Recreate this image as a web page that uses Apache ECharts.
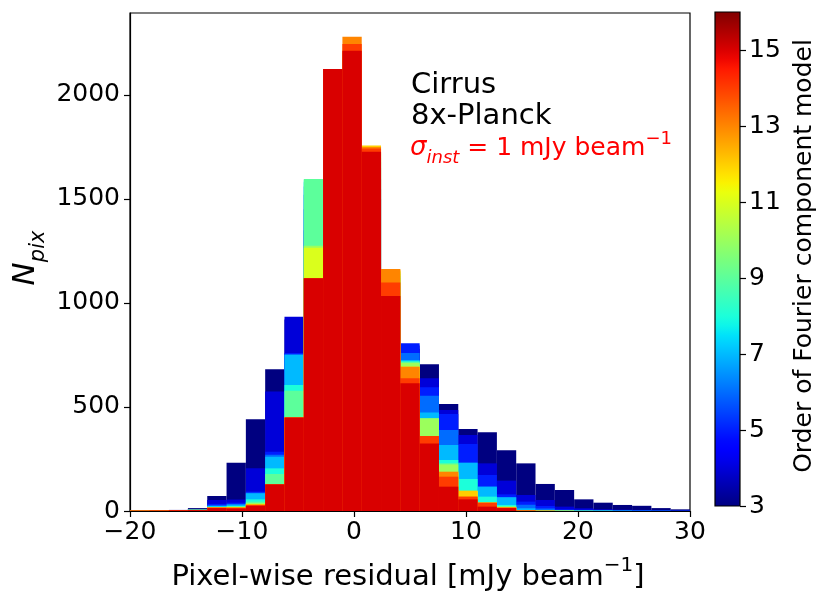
<!DOCTYPE html>
<html lang="en">
<head>
<meta charset="utf-8">
<title>Cirrus 8x-Planck residual histogram</title>
<style>
  * { margin: 0; padding: 0; box-sizing: border-box; }
  html, body { width: 100%; height: 100%; background: #fff; }
  #chart { width: 831px; height: 605px; }
</style>
</head>
<body>
<div id="chart"></div>
<script src="https://cdn.jsdelivr.net/npm/echarts@6/dist/echarts.min.js"></script>
<script>
// histogram: 29 bins between -20 and 30 mJy/beam
const binMin = -20
const binMax = 30
const binCount = 29

// order of the Fourier component model, drawn low -> high (15 on top)
const orders = [3, 4, 5, 6, 7, 8, 9, 10, 11, 12, 13, 14, 15]
const cbarMin = 3
const cbarMax = 16
const cbarTicks = [3, 5, 7, 9, 11, 13, 15]
const yTicks = [0, 500, 1000, 1500, 2000]

// pixel counts per bin, one array per order
const nOrder3  = [2, 3, 5, 14, 72, 232, 441, 681, 920, 1350, 1800, 1900, 1500, 1000, 780, 705, 514, 394, 378, 292, 229, 130, 101, 56, 40, 29, 25, 14, 8]
const nOrder4  = [2, 3, 5, 9, 53, 55, 205, 574, 934, 1450, 1900, 2000, 1550, 1050, 795, 638, 486, 365, 229, 146, 77, 53, 21, 13, 8, 6, 5, 3, 2]
const nOrder5  = [2, 3, 4, 7, 34, 40, 93, 285, 760, 1520, 1950, 2050, 1600, 1080, 806, 595, 466, 322, 173, 80, 45, 24, 8, 6, 5, 4, 3, 2, 1]
const nOrder6  = [2, 3, 4, 7, 28, 34, 88, 270, 755, 1560, 2000, 2100, 1650, 1100, 760, 554, 389, 232, 117, 66, 30, 12, 5, 4, 3, 2, 2, 1, 1]
const nOrder7  = [2, 3, 4, 6, 24, 30, 85, 261, 750, 1580, 2050, 2150, 1680, 1120, 726, 473, 317, 232, 117, 66, 13, 5, 3, 2, 2, 1, 1, 1, 0]
const nOrder8  = [2, 3, 4, 6, 21, 24, 56, 205, 606, 1590, 2080, 2180, 1700, 1130, 720, 440, 245, 154, 69, 29, 5, 3, 2, 1, 1, 1, 0, 0, 0]
const nOrder9  = [2, 3, 4, 6, 19, 22, 45, 178, 578, 1596, 2100, 2190, 1720, 1140, 718, 445, 230, 95, 40, 24, 3, 2, 1, 1, 1, 0, 0, 0, 0]
const nOrder10 = [2, 3, 4, 6, 18, 20, 38, 128, 450, 1275, 2110, 2200, 1725, 1150, 712, 446, 224, 95, 40, 20, 3, 2, 1, 1, 0, 0, 0, 0, 0]
const nOrder11 = [2, 3, 4, 5, 17, 19, 34, 128, 450, 1265, 2115, 2205, 1726, 1155, 694, 361, 185, 95, 40, 18, 2, 1, 1, 0, 0, 0, 0, 0, 0]
const nOrder12 = [2, 3, 4, 5, 17, 18, 32, 128, 450, 1119, 2120, 2210, 1757, 1160, 694, 361, 187, 98, 40, 18, 2, 1, 1, 0, 0, 0, 0, 0, 0]
const nOrder13 = [2, 2, 4, 5, 17, 17, 31, 128, 450, 1119, 2120, 2280, 1750, 1163, 694, 361, 189, 69, 40, 16, 2, 1, 0, 0, 0, 0, 0, 0, 0]
const nOrder14 = [2, 2, 4, 5, 16, 15, 28, 128, 450, 1119, 2125, 2245, 1743, 1098, 638, 361, 165, 69, 40, 16, 2, 1, 0, 0, 0, 0, 0, 0, 0]
const nOrder15 = [1, 2, 3, 4, 14, 12, 25, 128, 450, 1119, 2125, 2212, 1727, 1034, 614, 325, 117, 56, 21, 14, 1, 0, 0, 0, 0, 0, 0, 0, 0]

const countsByOrder = [nOrder3, nOrder4, nOrder5, nOrder6, nOrder7, nOrder8, nOrder9,
    nOrder10, nOrder11, nOrder12, nOrder13, nOrder14, nOrder15]

const FONT = 'DejaVu Sans'
const TICK_FONT = 25

// matplotlib 'jet'
function lerpTable(t, table) {
    for (let i = 1; i < table.length; i++) {
        if (t <= table[i][0]) {
            const a = table[i - 1], b = table[i]
            return a[1] + (b[1] - a[1]) * (t - a[0]) / (b[0] - a[0])
        }
    }
    return table[table.length - 1][1]
}
function jet(t) {
    t = Math.min(1, Math.max(0, t))
    const r = lerpTable(t, [[0, 0], [0.35, 0], [0.66, 1], [0.89, 1], [1, 0.5]])
    const g = lerpTable(t, [[0, 0], [0.125, 0], [0.375, 1], [0.64, 1], [0.91, 0], [1, 0]])
    const b = lerpTable(t, [[0, 0.5], [0.11, 1], [0.34, 1], [0.65, 0], [1, 0]])
    return 'rgb(' + Math.round(r * 255) + ',' + Math.round(g * 255) + ',' + Math.round(b * 255) + ')'
}

const binEdges = []
for (let i = 0; i <= binCount; i++) binEdges.push(binMin + i * (binMax - binMin) / binCount)

const histSeries = orders.map((order, idx) => {
    const color = jet((order - cbarMin) / (cbarMax - cbarMin))
    return {
        type: 'custom',
        name: 'order ' + order,
        xAxisIndex: 0,
        yAxisIndex: 0,
        clip: true,
        data: countsByOrder[idx].map((n, k) => [binEdges[k], binEdges[k + 1], n]),
        renderItem: (params, api) => {
            const p0 = api.coord([api.value(0), api.value(2)])
            const p1 = api.coord([api.value(1), 0])
            return {
                type: 'rect',
                shape: { x: p0[0], y: p0[1], width: p1[0] - p0[0], height: p1[1] - p0[1] },
                style: { fill: color }
            }
        }
    }
})

// colour bar
const stops = []
for (let i = 0; i <= 52; i++) stops.push({ offset: i / 52, color: jet(i / 52) })
const cbarSeries = {
    type: 'custom',
    xAxisIndex: 1,
    yAxisIndex: 1,
    data: [[0, 1, cbarMin, cbarMax]],
    renderItem: (params, api) => {
        const p0 = api.coord([api.value(0), api.value(3)])
        const p1 = api.coord([api.value(1), api.value(2)])
        return {
            type: 'rect',
            shape: { x: p0[0], y: p0[1], width: p1[0] - p0[0], height: p1[1] - p0[1] },
            style: {
                fill: new echarts.graphic.LinearGradient(0, 1, 0, 0, stops),
                stroke: '#000',
                lineWidth: 1.2
            }
        }
    }
}

const tickStyle = { show: true, inside: false, length: 6, lineStyle: { color: '#000', width: 1.2 } }
const plainNum = v => (v < 0 ? '\u2212' + Math.abs(v) : String(v))

const chart = echarts.init(document.getElementById('chart'), null, { renderer: 'canvas' })
chart.setOption({
    animation: false,
    backgroundColor: '#fff',
    textStyle: { fontFamily: FONT, color: '#000' },
    grid: [
        { left: 130, top: 13, width: 560, height: 498, show: true, borderColor: '#000', borderWidth: 1.2, backgroundColor: 'transparent' },
        { left: 715, top: 12, width: 25, height: 494 }
    ],
    xAxis: [
        {
            type: 'value', gridIndex: 0, min: binMin, max: binMax, interval: 10,
            splitLine: { show: false },
            axisLine: { show: true, onZero: false, lineStyle: { color: '#000', width: 1.2 } },
            axisTick: tickStyle,
            axisLabel: { fontSize: TICK_FONT, fontFamily: FONT, color: '#000', margin: 9, formatter: plainNum }
        },
        { type: 'value', gridIndex: 1, min: 0, max: 1, show: false }
    ],
    yAxis: [
        {
            type: 'value', gridIndex: 0, min: 0, max: 2394,
            splitLine: { show: false },
            axisLine: { show: true, onZero: false, lineStyle: { color: '#000', width: 1.2 } },
            axisTick: Object.assign({ customValues: yTicks }, tickStyle),
            axisLabel: { customValues: yTicks, fontSize: TICK_FONT, fontFamily: FONT, color: '#000', margin: 10, formatter: plainNum }
        },
        {
            type: 'value', gridIndex: 1, position: 'right', min: cbarMin, max: cbarMax,
            splitLine: { show: false },
            axisLine: { show: false, onZero: false },
            axisTick: Object.assign({ customValues: cbarTicks }, tickStyle),
            axisLabel: { customValues: cbarTicks, fontSize: TICK_FONT, fontFamily: FONT, color: '#000', margin: 9, formatter: plainNum }
        }
    ],
    series: histSeries.concat([cbarSeries]),
    graphic: [
        {
            type: 'text', x: 408, y: 574,
            style: {
                text: '{a|Pixel-wise residual [mJy beam}{s|\u22121}{a|]}',
                align: 'center', verticalAlign: 'middle',
                rich: {
                    a: { fontFamily: FONT, fontSize: 29, padding: [7, 0, 0, 0], verticalAlign: 'bottom', fill: '#000' },
                    s: { fontFamily: FONT, fontSize: 20, verticalAlign: 'top', fill: '#000' }
                }
            }
        },
        {
            type: 'text', x: 30, y: 258, rotation: Math.PI / 2,
            style: {
                text: '{n|N}{p|pix}',
                align: 'center', verticalAlign: 'middle',
                rich: {
                    n: { fontFamily: FONT, fontSize: 31, fontStyle: 'italic', padding: [0, 0, 8, 0], verticalAlign: 'top', fill: '#000' },
                    p: { fontFamily: FONT, fontSize: 21, fontStyle: 'italic', verticalAlign: 'bottom', fill: '#000' }
                }
            }
        },
        {
            type: 'text', x: 804, y: 256, rotation: Math.PI / 2,
            style: {
                text: 'Order of Fourier component model',
                font: '25px "DejaVu Sans"', fill: '#000',
                align: 'center', verticalAlign: 'middle'
            }
        },
        {
            type: 'text', x: 411, y: 85,
            style: { text: 'Cirrus', font: '29px "DejaVu Sans"', fill: '#000', verticalAlign: 'middle' }
        },
        {
            type: 'text', x: 411, y: 116,
            style: { text: '8x-Planck', font: '29px "DejaVu Sans"', fill: '#000', verticalAlign: 'middle' }
        },
        {
            type: 'text', x: 410, y: 149,
            style: {
                text: '{g|\u03c3}{b|inst}{t| = 1 mJy beam}{u|\u22121}',
                verticalAlign: 'middle',
                rich: {
                    g: { fontFamily: FONT, fontSize: 26, fontStyle: 'italic', padding: [5, 0, 6, 0], verticalAlign: 'top', fill: '#ff0000' },
                    b: { fontFamily: FONT, fontSize: 18, fontStyle: 'italic', verticalAlign: 'bottom', fill: '#ff0000' },
                    t: { fontFamily: FONT, fontSize: 25, padding: [5, 0, 6, 0], verticalAlign: 'top', fill: '#ff0000' },
                    u: { fontFamily: FONT, fontSize: 18, verticalAlign: 'top', fill: '#ff0000' }
                }
            }
        }
    ]
})
</script>
</body>
</html>
